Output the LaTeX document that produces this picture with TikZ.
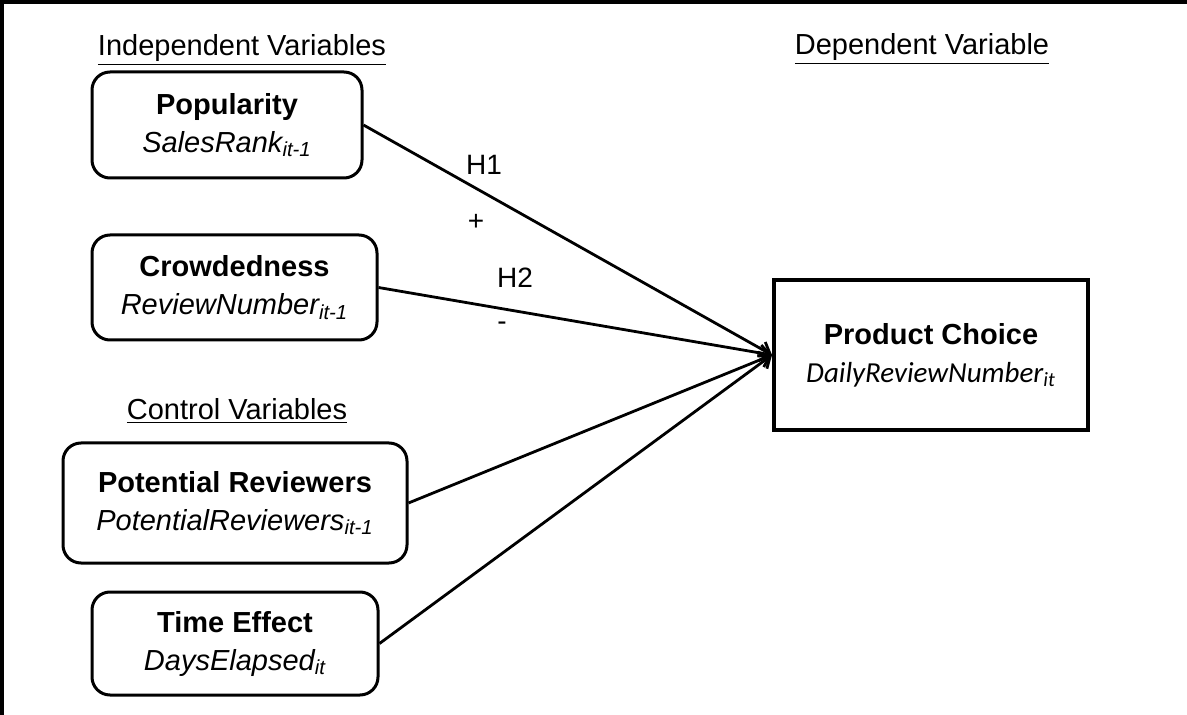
\documentclass[tikz,border=0pt]{standalone}
\usepackage{fontspec}
\setmainfont{Liberation Sans}
\newfontfamily\calibri{Carlito}
\usetikzlibrary{arrows.meta}

\begin{document}
\begin{tikzpicture}[x=0.5pt,y=-0.5pt,
  varbox/.style={draw,line width=1.5pt,rounded corners=9pt,align=center,inner sep=0pt,font=\fontsize{14.5}{19}\selectfont},
  depbox/.style={draw,line width=2pt,align=center,inner sep=0pt,font=\fontsize{14.5}{19}\selectfont},
  header/.style={font=\fontsize{14.5}{17}\selectfont,inner sep=0pt},
  hyplabel/.style={font=\fontsize{14}{17}\selectfont,inner sep=0pt},
  link/.style={line width=1.4pt,-{Straight Barb[length=5pt,width=8pt,line width=1.4pt]}}]
\useasboundingbox (0,0) rectangle (1187,715);
\draw[line width=1.6pt] (2,715) -- (2,2) -- (1187,2);
% headings
\node[header] (IndepHead) at (242,50) {\underline{Independent Variables}};
\node[header] (CtrlHead) at (237,411) {\underline{Control Variables}};
\node[header] (DepHead) at (922,49) {\underline{Dependent Variable}};
% variables
\node[varbox,minimum width=135pt,minimum height=53pt] (Pop) at (227,125) {\textbf{Popularity}\\\textit{SalesRank\textsubscript{it-1}}};
\node[varbox,minimum width=142.5pt,minimum height=52.5pt] (Crowd) at (234.5,287.5) {\textbf{Crowdedness}\\\textit{ReviewNumber\textsubscript{it-1}}};
\node[varbox,minimum width=172pt,minimum height=60pt] (PotRev) at (235,503) {\textbf{Potential Reviewers}\\\textit{PotentialReviewers\textsubscript{it-1}}};
\node[varbox,minimum width=143pt,minimum height=51.5pt] (Time) at (235,643.5) {\textbf{Time Effect}\\\textit{DaysElapsed\textsubscript{it}}};
\node[depbox,minimum width=157pt,minimum height=75pt] (Choice) at (931,355) {\textbf{Product Choice}\\{\calibri\itshape DailyReviewNumber\textsubscript{it}}};
% links
\draw[link] (Pop.east) -- (Choice.west);
\draw[link] (Crowd.east) -- (Choice.west);
\draw[link] (PotRev.east) -- (Choice.west);
\draw[link] (Time.east) -- (Choice.west);
\node[hyplabel] (H1) at (484,165) {H1};
\node[hyplabel] (H1sign) at (476,222) {+};
\node[hyplabel] (H2) at (515,278) {H2};
\node[hyplabel] (H2sign) at (502,326) {-};
\end{tikzpicture}
\end{document}
